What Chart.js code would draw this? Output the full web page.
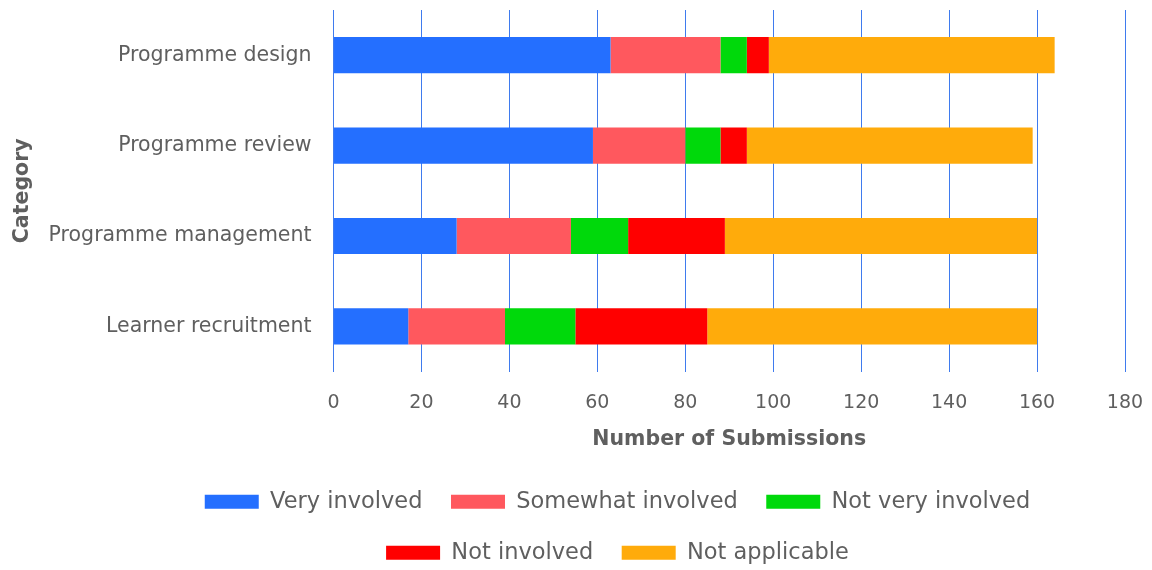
<!DOCTYPE html>
<html>
<head>
<meta charset="utf-8">
<script src="https://cdn.jsdelivr.net/npm/chart.js@4"></script>
<style>
  html, body { margin: 0; padding: 0; background: #fff; }
  #wrap { width: 1152px; height: 570px; }
</style>
</head>
<body>
<div id="wrap"><canvas id="myChart"></canvas></div>
<script>
// --- Data ---
const categories = ['Programme design', 'Programme review', 'Programme management', 'Learner recruitment'];
const veryInvolved = [63, 59, 28, 17];
const somewhatInvolved = [25, 21, 26, 22];
const notVeryInvolved = [6, 8, 13, 16];
const notInvolved = [5, 6, 22, 30];
const notApplicable = [65, 65, 71, 75];
const xTicks = [0, 20, 40, 60, 80, 100, 120, 140, 160, 180];

const textColor = '#5f5f5f';
const gridColor = '#3f7bee';
const fontFamily = '"DejaVu Sans", sans-serif';

function series(label, data, color) {
    return {
        label: label,
        data: data,
        backgroundColor: color,
        borderColor: color,
        borderWidth: 0,
        barPercentage: 0.4,
        categoryPercentage: 1.0
    };
}

// don't let tick labels push the plot area around; layout padding handles it
function noScalePadding(scale) {
    scale.paddingTop = 0;
    scale.paddingBottom = 0;
    scale.paddingLeft = 0;
    scale.paddingRight = 0;
}

// the original legend sits a bit right of the canvas centre
const legendShift = {
    id: 'legendShift',
    afterLayout(chart) {
        chart.legend.left += 49;
        chart.legend.right += 49;
    }
};

const ctx = document.getElementById('myChart').getContext('2d');
new Chart(ctx, {
    type: 'bar',
    data: {
        labels: categories,
        datasets: [
            series('Very involved', veryInvolved, '#246fff'),
            series('Somewhat involved', somewhatInvolved, '#ff585e'),
            series('Not very involved', notVeryInvolved, '#00d90b'),
            series('Not involved', notInvolved, '#ff0000'),
            series('Not applicable', notApplicable, '#ffab0b')
        ]
    },
    plugins: [legendShift],
    options: {
        indexAxis: 'y',
        responsive: true,
        maintainAspectRatio: false,
        animation: false,
        layout: { autoPadding: false, padding: { top: 10, right: 27, left: 12, bottom: -4 } },
        plugins: {
            tooltip: { enabled: false },
            legend: {
                position: 'bottom',
                labels: {
                    boxWidth: 54,
                    boxHeight: 14,
                    padding: 28.5,
                    color: textColor,
                    font: { family: fontFamily, size: 22.5 }
                }
            }
        },
        scales: {
            x: {
                stacked: true,
                min: 0,
                max: 180,
                afterBuildTicks: axis => { axis.ticks = xTicks.map(v => ({ value: v })); },
                afterFit: noScalePadding,
                grid: { color: gridColor, lineWidth: 1, drawTicks: false },
                border: { display: false },
                ticks: { color: textColor, padding: 20, font: { family: fontFamily, size: 19 } },
                title: {
                    display: true,
                    text: 'Number of Submissions',
                    color: textColor,
                    padding: { top: -7, bottom: 10 },
                    font: { family: fontFamily, size: 20.5, weight: 'bold' }
                }
            },
            y: {
                stacked: true,
                afterFit: noScalePadding,
                grid: { display: false, drawTicks: false },
                border: { display: false },
                ticks: { color: textColor, padding: 22, font: { family: fontFamily, size: 20.5 } },
                title: {
                    display: true,
                    text: 'Category',
                    color: textColor,
                    padding: { top: -2, bottom: -8 },
                    font: { family: fontFamily, size: 20.5, weight: 'bold' }
                }
            }
        }
    }
});
</script>
</body>
</html>
